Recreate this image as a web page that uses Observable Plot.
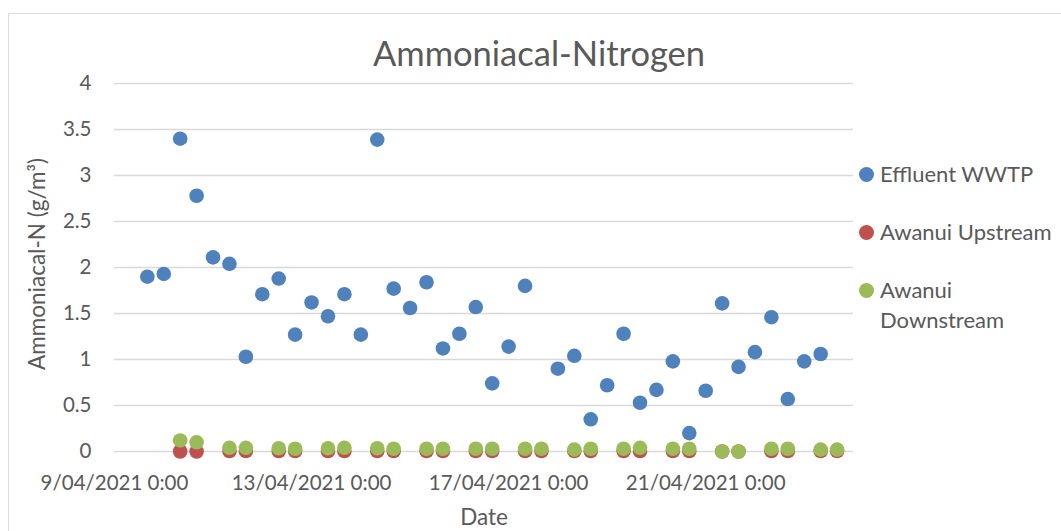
<!DOCTYPE html>
<html>
<head>
<meta charset="utf-8">
<script src="https://cdn.jsdelivr.net/npm/d3@7"></script>
<script src="https://cdn.jsdelivr.net/npm/@observablehq/plot@0.6"></script>
<style>
  html, body { margin: 0; padding: 0; background: #fff; }
  #wrap { position: relative; width: 1061px; height: 531px; overflow: hidden; font-family: Lato, "Open Sans", sans-serif; color: #595959; }
  #border { position: absolute; left: 8px; top: 13px; width: 1200px; height: 700px; border: 1px solid #d9d9d9; box-sizing: border-box; }
  #chart { position: absolute; left: 0; top: 0; }
  .abs { position: absolute; white-space: nowrap; }
  #title { left: 539px; top: 52px; transform: translate(-50%, -50%); font-size: 34.5px; }
  #ytitle { left: 36px; top: 264px; transform: translate(-50%, -50%) rotate(-90deg); font-size: 22.5px; }
  #xtitle { left: 484px; top: 516px; transform: translate(-50%, -50%); font-size: 22.5px; }
  .leg { position: absolute; left: 859px; font-size: 22px; line-height: 30px; }
  .leg .sw { position: absolute; left: 0; top: 8px; width: 15px; height: 15px; border-radius: 50%; }
  .leg .tx { position: absolute; left: 21px; top: 0; white-space: nowrap; }
</style>
</head>
<body>
<div id="wrap">
  <div id="border"></div>
  <div id="chart"></div>
  <div id="title" class="abs">Ammoniacal-Nitrogen</div>
  <div id="ytitle" class="abs">Ammoniacal-N (g/m³)</div>
  <div id="xtitle" class="abs">Date</div>
  <div id="legend"></div>
</div>
<script>
// Effluent WWTP samples (every 8 h)
const effluentDates = [
  "2021-04-09T16:00Z","2021-04-10T00:00Z","2021-04-10T08:00Z","2021-04-10T16:00Z",
  "2021-04-11T00:00Z","2021-04-11T08:00Z","2021-04-11T16:00Z","2021-04-12T00:00Z",
  "2021-04-12T08:00Z","2021-04-12T16:00Z","2021-04-13T00:00Z","2021-04-13T08:00Z",
  "2021-04-13T16:00Z","2021-04-14T00:00Z","2021-04-14T08:00Z","2021-04-14T16:00Z",
  "2021-04-15T00:00Z","2021-04-15T08:00Z","2021-04-15T16:00Z","2021-04-16T00:00Z",
  "2021-04-16T08:00Z","2021-04-16T16:00Z","2021-04-17T00:00Z","2021-04-17T08:00Z",
  "2021-04-18T00:00Z","2021-04-18T08:00Z","2021-04-18T16:00Z","2021-04-19T00:00Z",
  "2021-04-19T08:00Z","2021-04-19T16:00Z","2021-04-20T00:00Z","2021-04-20T08:00Z",
  "2021-04-20T16:00Z","2021-04-21T00:00Z","2021-04-21T08:00Z","2021-04-21T16:00Z",
  "2021-04-22T00:00Z","2021-04-22T08:00Z","2021-04-22T16:00Z","2021-04-23T00:00Z",
  "2021-04-23T08:00Z"
];
const effluentValues = [
  1.90, 1.93, 3.40, 2.78, 2.11, 2.04, 1.03, 1.71, 1.88, 1.27, 1.62, 1.47,
  1.71, 1.27, 3.39, 1.77, 1.56, 1.84, 1.12, 1.28, 1.57, 0.74, 1.14, 1.80,
  0.90, 1.04, 0.35, 0.72, 1.28, 0.53, 0.67, 0.98, 0.20, 0.66, 1.61, 0.92,
  1.08, 1.46, 0.57, 0.98, 1.06
];
// Awanui river samples (08:00 and 16:00 daily)
const riverDates = [
  "2021-04-10T08:00Z","2021-04-10T16:00Z","2021-04-11T08:00Z","2021-04-11T16:00Z",
  "2021-04-12T08:00Z","2021-04-12T16:00Z","2021-04-13T08:00Z","2021-04-13T16:00Z",
  "2021-04-14T08:00Z","2021-04-14T16:00Z","2021-04-15T08:00Z","2021-04-15T16:00Z",
  "2021-04-16T08:00Z","2021-04-16T16:00Z","2021-04-17T08:00Z","2021-04-17T16:00Z",
  "2021-04-18T08:00Z","2021-04-18T16:00Z","2021-04-19T08:00Z","2021-04-19T16:00Z",
  "2021-04-20T08:00Z","2021-04-20T16:00Z","2021-04-21T08:00Z","2021-04-21T16:00Z",
  "2021-04-22T08:00Z","2021-04-22T16:00Z","2021-04-23T08:00Z","2021-04-23T16:00Z"
];
const upstreamValues = [
  0.00, 0.00, 0.005, 0.005, 0.005, 0.005, 0.005, 0.005, 0.005, 0.005, 0.005, 0.005,
  0.005, 0.005, 0.005, 0.005, 0.005, 0.005, 0.005, 0.005, 0.005, 0.005, 0.00, 0.00,
  0.005, 0.005, 0.005, 0.005
];
const downstreamValues = [
  0.12, 0.10, 0.04, 0.04, 0.035, 0.03, 0.035, 0.04, 0.035, 0.03, 0.03, 0.03,
  0.03, 0.03, 0.03, 0.03, 0.02, 0.03, 0.03, 0.04, 0.03, 0.03, 0.00, 0.00,
  0.03, 0.03, 0.02, 0.02
];
const seriesNames = ["Effluent WWTP", "Awanui Upstream", "Awanui Downstream"];
const seriesColors = ["#4F81BD", "#C0504D", "#9BBB59"];
const yTicks = [0, 0.5, 1, 1.5, 2, 2.5, 3, 3.5, 4];
const xTicks = ["2021-04-09T00:00Z", "2021-04-13T00:00Z", "2021-04-17T00:00Z", "2021-04-21T00:00Z"];
const xDomain = ["2021-04-09T00:00Z", "2021-04-24T00:00Z"];

const eff = effluentDates.map((d, i) => ({date: new Date(d), value: effluentValues[i]}));
const up = riverDates.map((d, i) => ({date: new Date(d), value: upstreamValues[i]}));
const down = riverDates.map((d, i) => ({date: new Date(d), value: downstreamValues[i]}));
const fmt = d3.utcFormat("%-d/%m/%Y %-H:%M");

const chart = Plot.plot({
  width: 1061,
  height: 531,
  marginLeft: 114,
  marginRight: 208,
  marginTop: 83,
  marginBottom: 80,
  style: {fontFamily: "Lato, 'Open Sans', sans-serif", fontSize: "20.5px", color: "#595959", background: "transparent", overflow: "visible"},
  x: {type: "utc", domain: xDomain.map(d => new Date(d))},
  y: {domain: [0, 4]},
  marks: [
    Plot.gridY(yTicks, {stroke: "#d9d9d9", strokeOpacity: 1, strokeWidth: 1.5}),
    Plot.axisY(yTicks, {tickSize: 0, tickPadding: 23, tickFormat: d => String(d), label: null, fontSize: 20.5, fill: "#595959"}),
    Plot.axisX(xTicks.map(d => new Date(d)), {tickSize: 0, tickPadding: 24, tickFormat: fmt, label: null, fontSize: 20.5, fill: "#595959"}),
    Plot.dot(eff, {x: "date", y: "value", r: 7.3, fill: seriesColors[0]}),
    Plot.dot(up, {x: "date", y: "value", r: 7.3, fill: seriesColors[1]}),
    Plot.dot(down, {x: "date", y: "value", r: 7.3, fill: seriesColors[2]})
  ]
});
document.getElementById("chart").appendChild(chart);

// Legend
const legendTops = [159, 217, 275];
const legend = document.getElementById("legend");
seriesNames.forEach((name, i) => {
  const item = document.createElement("div");
  item.className = "leg";
  item.style.top = legendTops[i] + "px";
  const sw = document.createElement("div");
  sw.className = "sw";
  sw.style.background = seriesColors[i];
  const tx = document.createElement("div");
  tx.className = "tx";
  tx.innerHTML = name === "Awanui Downstream" ? "Awanui<br>Downstream" : name;
  item.appendChild(sw);
  item.appendChild(tx);
  legend.appendChild(item);
});
</script>
</body>
</html>
